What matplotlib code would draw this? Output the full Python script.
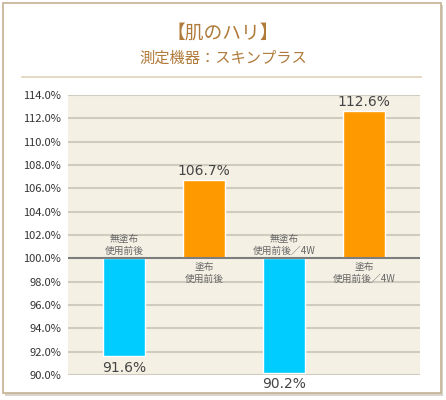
import matplotlib
matplotlib.use("Agg")
import matplotlib.pyplot as plt
from matplotlib.patches import Rectangle
from matplotlib.lines import Line2D

plt.rcParams['font.family'] = ['Noto Sans CJK JP', 'DejaVu Sans']

title = "【肌のハリ】"
subtitle = "測定機器：スキンプラス"
categories = ["無塗布\n使用前後", "塗布\n使用前後", "無塗布\n使用前後／4W", "塗布\n使用前後／4W"]
values = [91.6, 106.7, 90.2, 112.6]
colors = ["#00ccff", "#ff9900", "#00ccff", "#ff9900"]
yticks = [90, 92, 94, 96, 98, 100, 102, 104, 106, 108, 110, 112, 114]
baseline = 100

W, H = 446, 400
fig = plt.figure(figsize=(W / 100, H / 100), dpi=100)
fig.patch.set_facecolor("white")

def fx(px):
    return px / W
def fy(py):
    return 1 - py / H

# card shadow and border
fig.patches.append(Rectangle((fx(5), fy(396)), fx(438), 391 / H, transform=fig.transFigure,
                             facecolor="#d8d4cc", edgecolor="none", zorder=-3))
fig.patches.append(Rectangle((fx(3), fy(393)), fx(438), 390 / H, transform=fig.transFigure,
                             facecolor="white", edgecolor="#c4b193", linewidth=1.2, zorder=-2))

# titles
fig.text(0.5, fy(33), title, ha="center", va="center", fontsize=13.5, color="#b07a3a")
fig.text(0.5, fy(58), subtitle, ha="center", va="center", fontsize=11, color="#b07a3a")
fig.lines.append(Line2D([fx(22), fx(421)], [fy(77), fy(77)], transform=fig.transFigure,
                        color="#e2d2b8", linewidth=1.2))

ax = fig.add_axes([fx(68), fy(375), fx(420) - fx(68), (375 - 95) / H])
ax.set_facecolor("#f4f0e4")
for s in ax.spines.values():
    s.set_visible(False)

ax.set_ylim(90, 114)
ax.set_xlim(-0.7, 3.7)
ax.set_yticks(yticks)
ax.set_yticklabels([f"{v:.1f}%" for v in yticks], fontsize=8, color="#333333")
ax.tick_params(axis="y", length=0, pad=5)
ax.set_xticks([])
for v in yticks:
    if v == baseline:
        continue
    ax.axhline(v, color="#cfcbbf", linewidth=1.5, zorder=1)
ax.axhline(baseline, color="#7d7d7d", linewidth=1.5, zorder=3)

x = list(range(len(values)))
heights = [v - baseline for v in values]
ax.bar(x, heights, bottom=baseline, width=0.525, color=colors, edgecolor="white",
       linewidth=1, zorder=2)

num_font = dict(family="DejaVu Sans", fontsize=10, color="#444444")
for i, (v, cat) in enumerate(zip(values, categories)):
    if v < baseline:
        ax.annotate(f"{v:.1f}%", (i, v), xytext=(0, -3), textcoords="offset points",
                    ha="center", va="top", annotation_clip=False, **num_font)
        ax.annotate(cat, (i, baseline), xytext=(0, 1.5), textcoords="offset points",
                    ha="center", va="bottom", fontsize=7, color="#666666", linespacing=1.25)
    else:
        ax.annotate(f"{v:.1f}%", (i, v), xytext=(0, 1.5), textcoords="offset points",
                    ha="center", va="bottom", annotation_clip=False, **num_font)
        ax.annotate(cat, (i, baseline), xytext=(0, -2.5), textcoords="offset points",
                    ha="center", va="top", fontsize=7, color="#666666", linespacing=1.25)

fig.savefig("out.png", dpi=100)
